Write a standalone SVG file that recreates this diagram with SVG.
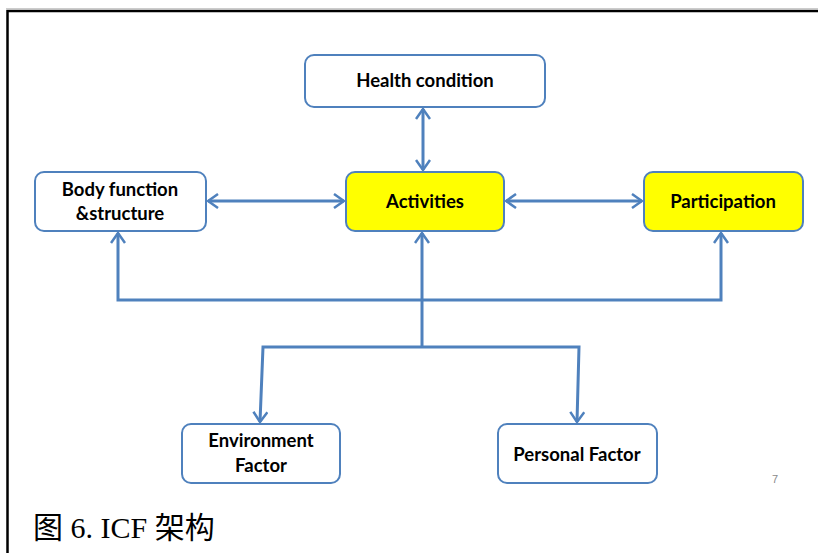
<svg xmlns="http://www.w3.org/2000/svg" width="818" height="553" viewBox="0 0 818 553">
<style>
.box{fill:#fff;stroke:#4F81BD;stroke-width:2}
.yel{fill:#FFFF00;stroke:#4F81BD;stroke-width:2}
.lbl{font-family:Lato,"Liberation Sans",sans-serif;font-weight:bold;font-size:18.5px;fill:#000;text-anchor:middle}
.con{fill:none;stroke:#4F81BD;stroke-width:3}
</style>
<defs>
<marker id="ah" viewBox="0 0 12 16" refX="11" refY="8" markerWidth="12" markerHeight="16" markerUnits="userSpaceOnUse" orient="auto-start-reverse">
<path d="M1,1 L11,8 L1,15" fill="none" stroke="#4F81BD" stroke-width="2.5"/>
</marker>
</defs>
<rect width="818" height="553" fill="#fff"/>
<line x1="6" y1="8.5" x2="818" y2="8.5" stroke="#ccc" stroke-width="1"/>
<path d="M818,11 L7.5,11 L7.5,553" fill="none" stroke="#000" stroke-width="2.5"/>
<g id="connectors">
<line class="con" x1="423" y1="109" x2="423" y2="170" marker-start="url(#ah)" marker-end="url(#ah)"/>
<line class="con" x1="208" y1="201" x2="344" y2="201" marker-start="url(#ah)" marker-end="url(#ah)"/>
<line class="con" x1="506" y1="201" x2="642" y2="201" marker-start="url(#ah)" marker-end="url(#ah)"/>
<line class="con" x1="422" y1="347" x2="422" y2="233" marker-end="url(#ah)"/>
<polyline class="con" points="118,233 118,300 721,300 721,233" marker-start="url(#ah)" marker-end="url(#ah)"/>
<polyline class="con" points="260,422 263,347 579,347 577,422" marker-start="url(#ah)" marker-end="url(#ah)"/>
</g>
<g id="health">
<rect class="box" x="305" y="55" width="240" height="52" rx="9"/>
<text class="lbl" x="425" y="87">Health condition</text>
</g>
<g id="body">
<rect class="box" x="35" y="172" width="171" height="59" rx="9"/>
<text class="lbl" x="120" y="196">Body function</text>
<text class="lbl" x="120" y="220">&amp;structure</text>
</g>
<g id="activities">
<rect class="yel" x="346" y="172" width="158" height="59" rx="9"/>
<text class="lbl" x="425" y="208">Activities</text>
</g>
<g id="participation">
<rect class="yel" x="644" y="172" width="159" height="59" rx="9"/>
<text class="lbl" x="723" y="208">Participation</text>
</g>
<g id="environment">
<rect class="box" x="182" y="424" width="158" height="59" rx="9"/>
<text class="lbl" x="261" y="447">Environment</text>
<text class="lbl" x="261" y="472">Factor</text>
</g>
<g id="personal">
<rect class="box" x="498" y="424" width="159" height="59" rx="9"/>
<text class="lbl" x="577" y="461">Personal Factor</text>
</g>
<text x="775" y="483" font-family="Liberation Sans,sans-serif" font-size="11" fill="#8a8a8a" text-anchor="middle">7</text>
<text x="33" y="538" font-family="'Liberation Serif','Noto Sans CJK SC',serif" font-size="30" fill="#000">图 6. ICF 架构</text>
</svg>
